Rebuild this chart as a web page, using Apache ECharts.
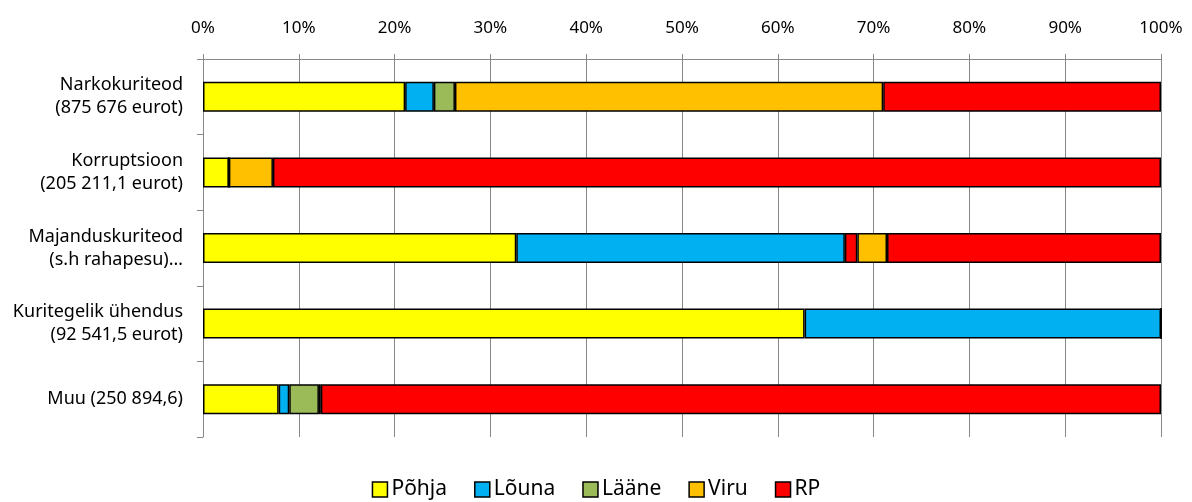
<!doctype html>
<html lang="et">
<head>
    <meta charset="utf-8">
    <title>Kuriteod piirkonniti</title>
    <script src="https://cdn.jsdelivr.net/npm/echarts@6/dist/echarts.min.js"></script>
    <style>
        html, body { margin: 0; padding: 0; background: #fff; }
        #main { width: 1192px; height: 502px; }
    </style>
</head>
<body>
    <div id="main"></div>
    <script>
        // kategooriad (ülevalt alla)
        var categories = [
            'Narkokuriteod\n(875 676 eurot)',
            'Korruptsioon\n(205 211,1 eurot)',
            'Majanduskuriteod\n(s.h rahapesu)…',
            'Kuritegelik ühendus\n(92 541,5 eurot)',
            'Muu (250 894,6)'
        ];
        // osakaalud protsentides
        var pohja = [21.1, 2.7, 32.7, 62.8, 7.9];
        var louna = [3.0, 0, 34.3, 37.2, 1.1];
        var laane = [2.2, 0, 1.3, 0, 3.1];
        var viru  = [44.7, 4.6, 3.1, 0, 0.2];
        var rp    = [29.0, 92.7, 28.6, 0, 87.7];
        var tickValues = [0, 10, 20, 30, 40, 50, 60, 70, 80, 90, 100];

        var names  = ['Põhja', 'Lõuna', 'Lääne', 'Viru', 'RP'];
        var colors = ['#FFFF00', '#00B0F0', '#9BBB59', '#FFC000', '#FF0000'];
        var values = [pohja, louna, laane, viru, rp];

        var font = 'Noto Sans';
        var myChart = echarts.init(document.getElementById('main'));

        var series = names.map(function (n, i) {
            return {
                name: n,
                type: 'bar',
                stack: 'kokku',
                barWidth: 30,
                itemStyle: { color: colors[i], borderColor: '#000', borderWidth: 1.5 },
                data: values[i].map(function (v, j) {
                    // Majanduskuriteod: Lääne lõik on pildil punane
                    if (i === 2 && j === 2) {
                        return { value: v, itemStyle: { color: '#FF0000' } };
                    }
                    return v;
                })
            };
        });

        var option = {
            animation: false,
            color: colors,
            grid: { left: 203, right: 31, top: 59, bottom: 65 },
            legend: {
                top: 474,
                left: 'center',
                itemWidth: 15,
                itemHeight: 15,
                itemGap: 27,
                icon: 'rect',
                itemStyle: { borderColor: '#000', borderWidth: 1.5 },
                textStyle: { fontFamily: font, fontSize: 21, color: '#000', padding: [0, 0, 0, -1] },
                data: names
            },
            xAxis: {
                type: 'value',
                position: 'top',
                min: 0,
                max: 100,
                interval: 10,
                axisLine: { show: true, lineStyle: { color: '#888', width: 1 } },
                axisTick: { show: true, length: 5, lineStyle: { color: '#888' } },
                axisLabel: {
                    fontFamily: font, fontSize: 17, color: '#000', margin: 22,
                    formatter: function (v) { return tickValues.indexOf(v) >= 0 ? v + '%' : ''; }
                },
                splitLine: { show: true, lineStyle: { color: '#888', width: 1 } }
            },
            yAxis: {
                type: 'category',
                inverse: true,
                data: categories,
                axisLine: { show: true, lineStyle: { color: '#888', width: 1 } },
                axisTick: { show: true, length: 6, lineStyle: { color: '#888' } },
                axisLabel: {
                    fontFamily: font, fontSize: 18, color: '#000', margin: 20,
                    lineHeight: 23, align: 'right'
                }
            },
            series: series
        };

        myChart.setOption(option);
    </script>
</body>
</html>
